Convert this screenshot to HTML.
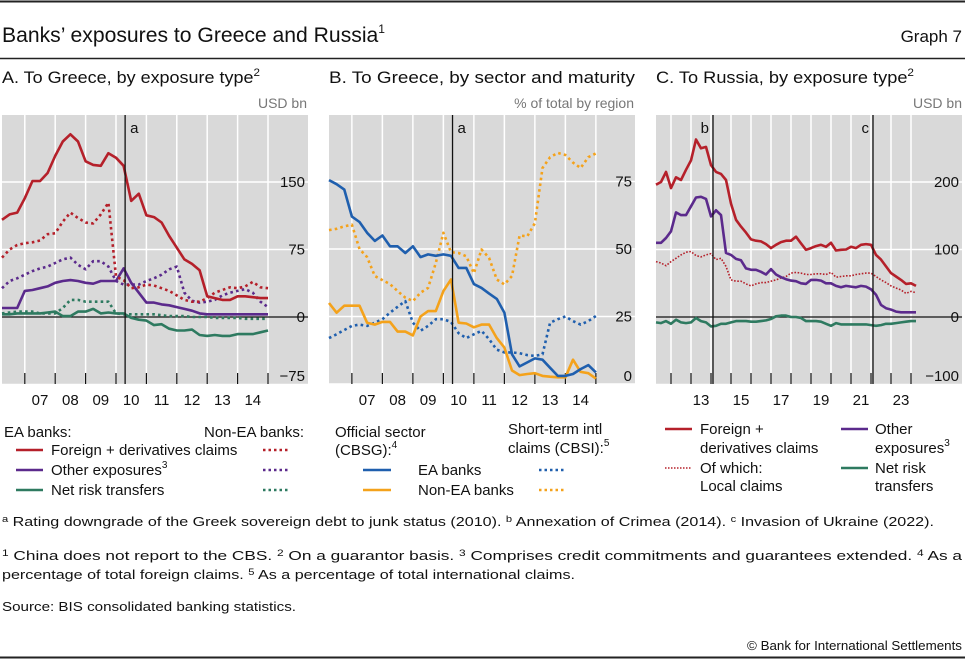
<!DOCTYPE html>
<html><head><meta charset="utf-8"><style>
html,body{margin:0;padding:0;background:#fff;}
svg{display:block;font-family:"Liberation Sans",sans-serif;}
</style></head><body>
<svg id="root" width="965" height="659" viewBox="0 0 965 659" xmlns="http://www.w3.org/2000/svg">
<line x1="0" y1="1.5" x2="965" y2="1.5" stroke="#222" stroke-width="2"/>
<text x="2" y="42" font-size="21" fill="#111" textLength="383" lengthAdjust="spacingAndGlyphs">Banks’ exposures to Greece and Russia<tspan font-size="12" dy="-9">1</tspan></text>
<text x="962" y="42" font-size="17" fill="#111" text-anchor="end">Graph 7</text>
<line x1="0" y1="58.5" x2="965" y2="58.5" stroke="#222" stroke-width="1.5"/>
<text x="2" y="83" font-size="17" fill="#111" textLength="258" lengthAdjust="spacingAndGlyphs">A. To Greece, by exposure type<tspan font-size="11" dy="-7">2</tspan></text>
<text x="329" y="83" font-size="17" fill="#111" textLength="306" lengthAdjust="spacingAndGlyphs">B. To Greece, by sector and maturity</text>
<text x="656" y="83" font-size="17" fill="#111" textLength="258" lengthAdjust="spacingAndGlyphs">C. To Russia, by exposure type<tspan font-size="11" dy="-7">2</tspan></text>
<text x="307" y="108" font-size="14" fill="#777" text-anchor="end">USD bn</text>
<text x="634" y="108" font-size="14" fill="#777" text-anchor="end">% of total by region</text>
<text x="962" y="108" font-size="14" fill="#777" text-anchor="end">USD bn</text>
<g id="pa"></g>
<g id="pb"></g>
<g id="pc"></g>

<g font-size="15" fill="#111">
<text x="4" y="437">EA banks:</text>
<text x="204" y="437">Non-EA banks:</text>
<line x1="16" y1="450" x2="43" y2="450" stroke="#b5202a" stroke-width="2.5"/>
<text x="51" y="455">Foreign + derivatives claims</text>
<line x1="263" y1="450" x2="290" y2="450" stroke="#b5202a" stroke-width="2.5" stroke-dasharray="2.5 3"/>
<line x1="16" y1="470" x2="43" y2="470" stroke="#5b2a8c" stroke-width="2.5"/>
<text x="51" y="475">Other exposures<tspan font-size="10" dy="-7">3</tspan></text>
<line x1="263" y1="470" x2="290" y2="470" stroke="#5b2a8c" stroke-width="2.5" stroke-dasharray="2.5 3"/>
<line x1="16" y1="490" x2="43" y2="490" stroke="#2e7a60" stroke-width="2.5"/>
<text x="51" y="495">Net risk transfers</text>
<line x1="263" y1="490" x2="290" y2="490" stroke="#2e7a60" stroke-width="2.5" stroke-dasharray="2.5 3"/>
</g>
<g font-size="15" fill="#111">
<text x="335" y="437">Official sector</text>
<text x="335" y="455">(CBSG):<tspan font-size="10" dy="-7">4</tspan></text>
<text x="508" y="434">Short-term intl</text>
<text x="508" y="453">claims (CBSI):<tspan font-size="10" dy="-7">5</tspan></text>
<line x1="363" y1="470" x2="391" y2="470" stroke="#1f5fae" stroke-width="2.5"/>
<text x="418" y="475">EA banks</text>
<line x1="539" y1="470" x2="566" y2="470" stroke="#1f5fae" stroke-width="2.5" stroke-dasharray="2.5 3"/>
<line x1="363" y1="490" x2="391" y2="490" stroke="#f4a21b" stroke-width="2.5"/>
<text x="418" y="495">Non-EA banks</text>
<line x1="539" y1="490" x2="566" y2="490" stroke="#f4a21b" stroke-width="2.5" stroke-dasharray="2.5 3"/>
</g>
<g font-size="15" fill="#111">
<line x1="665" y1="429" x2="692" y2="429" stroke="#b5202a" stroke-width="2.5"/>
<text x="700" y="434">Foreign +</text>
<text x="700" y="453">derivatives claims</text>
<line x1="665" y1="468" x2="692" y2="468" stroke="#b5202a" stroke-width="1.5" stroke-dasharray="1.5 1.5"/>
<text x="700" y="473">Of which:</text>
<text x="700" y="491">Local claims</text>
<line x1="841" y1="429" x2="868" y2="429" stroke="#5b2a8c" stroke-width="2.5"/>
<text x="875" y="434">Other</text>
<text x="875" y="453">exposures<tspan font-size="10" dy="-7">3</tspan></text>
<line x1="841" y1="468" x2="868" y2="468" stroke="#2e7a60" stroke-width="2.5"/>
<text x="875" y="473">Net risk</text>
<text x="875" y="491">transfers</text>
</g>
<g font-size="13" fill="#111">
<text x="2" y="526" textLength="932" lengthAdjust="spacingAndGlyphs"><tspan font-size="9" dy="-4">a</tspan><tspan dy="4">  Rating downgrade of the Greek sovereign debt to junk status (2010).    </tspan><tspan font-size="9" dy="-4">b</tspan><tspan dy="4">  Annexation of Crimea (2014).    </tspan><tspan font-size="9" dy="-4">c</tspan><tspan dy="4">  Invasion of Ukraine (2022).</tspan></text>
<text x="2" y="560" textLength="960" lengthAdjust="spacingAndGlyphs"><tspan font-size="9" dy="-4">1</tspan><tspan dy="4">  China does not report to the CBS.   </tspan><tspan font-size="9" dy="-4">2</tspan><tspan dy="4">  On a guarantor basis.   </tspan><tspan font-size="9" dy="-4">3</tspan><tspan dy="4">  Comprises credit commitments and guarantees extended.   </tspan><tspan font-size="9" dy="-4">4</tspan><tspan dy="4">  As a</tspan></text>
<text x="2" y="579" textLength="573" lengthAdjust="spacingAndGlyphs">percentage of total foreign claims.   <tspan font-size="9" dy="-4">5</tspan><tspan dy="4">  As a percentage of total international claims.</tspan></text>
<text x="2" y="611" textLength="294" lengthAdjust="spacingAndGlyphs">Source: BIS consolidated banking statistics.</text>
<text x="962" y="650" text-anchor="end" textLength="215" lengthAdjust="spacingAndGlyphs">© Bank for International Settlements</text>
</g>
<line x1="0" y1="657.5" x2="965" y2="657.5" stroke="#222" stroke-width="2"/>
</svg>
<script>
// Panel A data (quarterly from 2006 Q1 end-point 2006.25)
const aStart = 2006.25;
const aYears = ["07","08","09","10","11","12","13","14"];
const aTicks = [-75, 0, 75, 150];
const aTickLabels = ["\u221275","0","75","150"];
const aEaForeign = [108,114,116,132,151,151,160,179,195,203,195,173,169,168,182,177,168,129,137,113,111,105,90,77,64,59,52,23,21,19,19,23,23,22,21,21];
const aNonEaForeign = [66,75,80,82,83,85,92,93,106,116,110,105,104,114,127,45,41,32,33,36,35,32,29,24,19,17,17,21,27,30,33,32,34,39,33,32];
const aEaOther = [10,10,10,29,30,32,34,38,40,41,40,38,37,40,40,40,54,38,27,16,16,14,13,11,9,7,4,3,3,3,3,3,3,3,3,3];
const aNonEaOther = [32,40,43,47,51,54,56,60,64,66,58,53,62,62,56,40,36,36,36,40,43,47,53,56,27,18,16,17,19,24,27,29,31,27,17,11];
const aEaNet = [3,3,4,4,4,4,5,6,1,1,6,6,9,4,5,4,4,-1,-3,-4,-9,-8,-13,-15,-15,-14,-20,-21,-20,-21,-21,-19,-19,-19,-17,-15];
const aNonEaNet = [4,5,6,6,6,4,4,4,10,19,19,17,17,17,17,4,3,3,3,3,3,2,1,1,1,0,0,0,-1,-1,-1,-1,-2,-2,-2,-2];
const aEvents = [2010.3];
const aEventLabels = ["a"];

// Panel B data
const bStart = 2006.25;
const bYears = ["07","08","09","10","11","12","13","14"];
const bTicks = [0, 25, 50, 75];
const bTickLabels = ["0","25","50","75"];
const bEaOfficial = [75.5,74,72,62,60,56,53,55,51,51,48.5,51,47,48,47.5,48,47.5,43,43,37,35.6,33.5,31.5,26.4,11,6.5,8,9.5,9,6,3,3,3.7,5.5,7,4.3];
const bNonEaOfficial = [30,26.4,29,29,29,22.7,22,23,23,19.4,19.4,18,25,27,27,34.4,38.7,22.7,22.4,21,22,22,17,13.5,5,3.3,3.7,4,3,2.7,2.5,2.5,9,4.5,4,2];
const bEaShort = [17,18.4,20,21.5,22,21.5,22.7,24,26.4,28.6,30.7,22.7,19.7,21.5,24,24,23,18.8,17,18.4,19.7,16.6,12.7,11.7,11.7,11.4,10.7,10.4,11,22.7,24,25,23.3,22,23.3,25.2];
const bNonEaShort = [57,57.5,58.4,59,50,47,40,38.5,37,34.4,32,30.7,33.8,35.6,44.8,56,48.8,48.5,47.3,41,49.8,46.7,38.7,36.9,40,55,54.7,59.6,80,84,85.6,84.8,82,80,84,85.4];
const bEvents = [2010.3];
const bEventLabels = ["a"];

// Panel C data (quarterly from 2011.25)
const cStart = 2011.25;
const cYears = ["13","15","17","19","21","23"];
const cTicks = [-100, 0, 100, 200];
const cTickLabels = ["\u2212100","0","100","200"];
const cForeign = [196,200,215,191,207,203,218,232,263,250,252,225,215,212,203,168,144,134,125,115,113,112,108,102,107,111,113,113,119,109,99.5,102,105,107,104,110,98.5,99.5,100,104,102,107,108,107,92,85,75,65,60,55,49,50,46];
const cOther = [110,110,117,127,155,151,151,164,177,178,175,149,158,151,95,92,86,84,72,70,70,67,63,71,63,59,56,54,53,50,49,55,55,54,50,50,46,44,46,45,44,46,45,41,33,18,13,11,8,7,7,7,7];
const cLocal = [82,80,76,82,87,92,96,97,91,89,92,94,85,87,75,55,53,53,49,46,49,51,51,53,55,58,60,65,66,65,63,63,64,64,63,66,59,60,61,61,63,64,65,65,60,55,51,46,43,40,35,38,36];
const cNet = [-8,-9,-6,-10,-4,-8,-9,-8,-1.5,-6,-8,-14,-13,-10,-10,-8,-6,-6,-6,-7,-7,-6,-5,-3,1,2,2,0,0,-1.5,-6,-6,-6,-7,-10,-13,-9,-11,-11,-11,-11,-11,-11,-12,-13,-12,-10,-10,-9,-8,-7,-6,-6];
const cEvents = [2014.1, 2022.1];
const cEventLabels = ["b","c"];

const NS = "http://www.w3.org/2000/svg";
function mk(tag, attrs, parent){
  const e = document.createElementNS(NS, tag);
  for (const k in attrs) e.setAttribute(k, attrs[k]);
  parent.appendChild(e);
  return e;
}
const RED="#b5202a", PUR="#5b2a8c", GRN="#2e7a60", BLU="#1f5fae", ORG="#f4a21b";

function panel(g, cfg){
  const x = t => cfg.x0 + (t - cfg.t0) * cfg.pxPerYear;
  const y = v => cfg.zeroY - (v - cfg.baseV) * cfg.pxPerUnit;
  const bg = mk("rect", {x: cfg.left, y: 115, width: cfg.right - cfg.left, height: 269, fill: "#d9d9d9"}, g);
  
  
  // vertical gridlines at year starts
  for (let yr = cfg.gridFrom; yr <= cfg.gridTo; yr++){
    const gx = x(yr);
    const vl = mk("line", {x1: gx, y1: 115, x2: gx, y2: 384, stroke: "#fff", "stroke-width": 1.5}, g);
    
    
  }
  cfg.ticks.forEach((tv, i) => {
    const ty = y(tv);
    if (tv !== cfg.zeroLine){
      const hl = mk("line", {x1: cfg.left, y1: ty, x2: cfg.right, y2: ty, stroke: "#fff", "stroke-width": 1.5}, g);
      
      
    }
    const lb = mk("text", {x: cfg.right - 3, y: Math.min(ty + 5, 381), "font-size": 15, fill: "#111", "text-anchor": "end"}, g);
    lb.textContent = cfg.tickLabels[i];
    
    
  });
  if (cfg.zeroLine !== null){
    const zl = mk("line", {x1: cfg.left, y1: y(0), x2: cfg.right, y2: y(0), stroke: "#111", "stroke-width": 1.2}, g);
    
    
  }
  // bottom ticks and year labels
  for (let yr = cfg.gridFrom; yr <= cfg.gridTo; yr++){
    const tk = mk("line", {x1: x(yr), y1: 373, x2: x(yr), y2: 384, stroke: "#111", "stroke-width": 1.2}, g);
    
    
  }
  cfg.years.forEach((lab, i) => {
    const yr = cfg.labelFrom + i * cfg.labelStep;
    const tl = mk("text", {x: x(yr + 0.5), y: 405, "font-size": 15, fill: "#111", "text-anchor": "middle"}, g);
    tl.textContent = lab;
    
    
  });
  // series
  cfg.series.forEach(s => {
    const pts = s.data.map((v, i) => x(cfg.start + i * 0.25).toFixed(1) + "," + y(v).toFixed(1)).join(" ");
    const attrs = {points: pts, fill: "none", stroke: s.color, "stroke-width": s.w || 2.6, "stroke-linejoin": "round"};
    if (s.dash) attrs["stroke-dasharray"] = s.dash;
    const pl = mk("polyline", attrs, g);
    
    
  });
  // events
  cfg.events.forEach((ev, i) => {
    const el = mk("line", {x1: x(ev), y1: 115, x2: x(ev), y2: 384, stroke: "#111", "stroke-width": 1.3}, g);
    
    
    const et = mk("text", {x: x(ev) + (cfg.eventLabels[i] === "a" ? 5 : -4), y: 133, "font-size": 15, fill: "#111", "text-anchor": cfg.eventLabels[i] === "a" ? "start" : "end"}, g);
    et.textContent = cfg.eventLabels[i];
    
    
  });
}
const DOT = "2.6 3.2";
panel(document.getElementById("pa"), {
  id: "panel-a", left: 2, right: 308, x0: 2, t0: 2006.25, pxPerYear: 30.4, zeroY: 317, baseV: 0, pxPerUnit: 0.9,
  gridFrom: 2007, gridTo: 2015, years: aYears, labelFrom: 2007, labelStep: 1,
  ticks: aTicks, tickLabels: aTickLabels, zeroLine: 0, start: aStart, events: aEvents, eventLabels: aEventLabels,
  series: [
    {name: "series-nonea-net-risk", data: aNonEaNet, color: GRN, dash: DOT},
    {name: "series-ea-net-risk", data: aEaNet, color: GRN},
    {name: "series-nonea-other", data: aNonEaOther, color: PUR, dash: DOT},
    {name: "series-ea-other", data: aEaOther, color: PUR},
    {name: "series-nonea-foreign", data: aNonEaForeign, color: RED, dash: DOT},
    {name: "series-ea-foreign", data: aEaForeign, color: RED}
  ]
});
panel(document.getElementById("pb"), {
  id: "panel-b", left: 329, right: 635, x0: 329, t0: 2006.25, pxPerYear: 30.5, zeroY: 384, baseV: 0, pxPerUnit: 2.7,
  gridFrom: 2007, gridTo: 2015, years: bYears, labelFrom: 2007, labelStep: 1,
  ticks: bTicks, tickLabels: bTickLabels, zeroLine: null, start: bStart, events: bEvents, eventLabels: bEventLabels,
  series: [
    {name: "series-ea-short-term", data: bEaShort, color: BLU, dash: DOT},
    {name: "series-nonea-short-term", data: bNonEaShort, color: ORG, dash: DOT},
    {name: "series-nonea-official", data: bNonEaOfficial, color: ORG},
    {name: "series-ea-official", data: bEaOfficial, color: BLU}
  ]
});
panel(document.getElementById("pc"), {
  id: "panel-c", left: 656, right: 962, x0: 656, t0: 2011.25, pxPerYear: 20, zeroY: 317, baseV: 0, pxPerUnit: 0.675,
  gridFrom: 2012, gridTo: 2024, years: cYears, labelFrom: 2013, labelStep: 2,
  ticks: cTicks, tickLabels: cTickLabels, zeroLine: 0, start: cStart, events: cEvents, eventLabels: cEventLabels,
  series: [
    {name: "series-c-net-risk", data: cNet, color: GRN},
    {name: "series-c-local-claims", data: cLocal, color: RED, dash: "1.6 1.6", w: 1.6},
    {name: "series-c-other", data: cOther, color: PUR},
    {name: "series-c-foreign", data: cForeign, color: RED}
  ]
});
</script>
</body></html>
